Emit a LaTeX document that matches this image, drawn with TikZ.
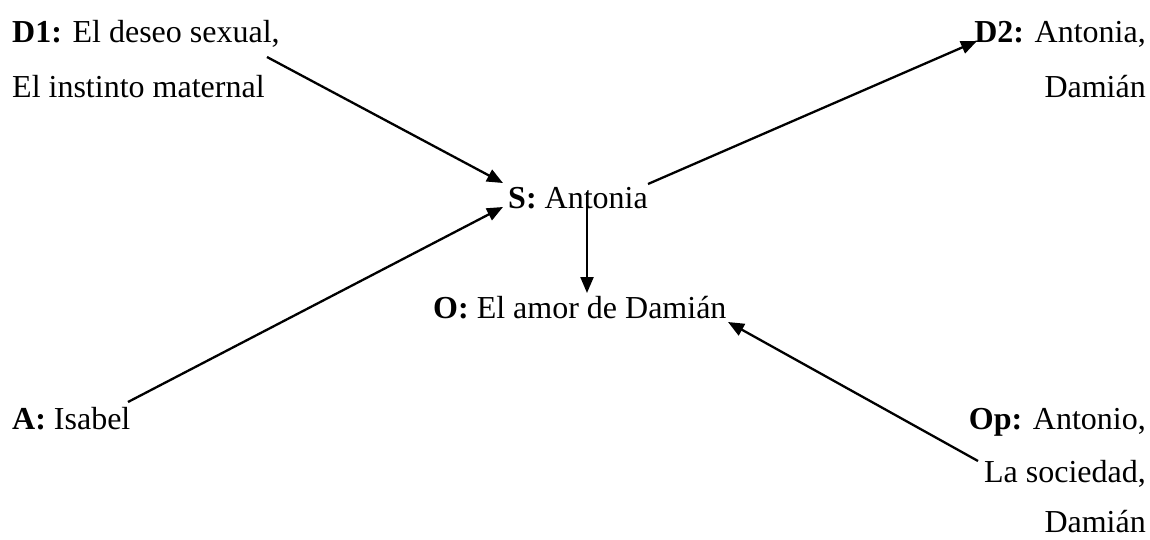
\documentclass[tikz,border=0pt]{standalone}
\usepackage{fontspec}
\setmainfont{Liberation Serif}
\usetikzlibrary{arrows.meta}
\begin{document}
\begin{tikzpicture}[x=1pt,y=-1pt,
  txt/.style={inner sep=0pt,font=\fontsize{32}{38}\selectfont},
  arr/.style={line width=2.3pt,-{Triangle[length=16pt,width=13pt]}}]
\useasboundingbox[fill=white] (0,0) rectangle (1150,540);
% texts
\node[txt,anchor=base west] (d1a) at (12,42.6) {\textbf{D1:} El deseo sexual,};
\node[txt,anchor=base west] (d1b) at (12,97.8) {El instinto maternal};
\node[txt,anchor=base east] (d2a) at (1146,42.6) {\textbf{D2:} Antonia,};
\node[txt,anchor=base east] (d2b) at (1146,97.8) {Damián};
\node[txt,anchor=base west] (s) at (508,208.2) {\textbf{S:} Antonia};
\node[txt,anchor=base west] (o) at (433,318.6) {\textbf{O:} El amor de Damián};
\node[txt,anchor=base west] (a) at (12,429) {\textbf{A:} Isabel};
\node[txt,anchor=base east] (opa) at (1146,429) {\textbf{Op:} Antonio,};
\node[txt,anchor=base east] (opb) at (1146,482) {La sociedad,};
\node[txt,anchor=base east] (opc) at (1146,532) {Damián};
% connector ends
\coordinate (d1out) at (267,57);
\coordinate (sin1) at (503,183);
\coordinate (aout) at (128,402);
\coordinate (sin2) at (503,207);
\coordinate (sout) at (648,184);
\coordinate (d2in) at (977,41);
\coordinate (sdown) at (587,192);
\coordinate (oin) at (587,293);
\coordinate (opout) at (978,461);
\coordinate (oin2) at (728,322);
% connectors
\draw[arr] (d1out) -- (sin1);
\draw[arr] (aout) -- (sin2);
\draw[arr] (sout) -- (d2in);
\draw[arr] (sdown) -- (oin);
\draw[arr] (opout) -- (oin2);
\end{tikzpicture}
\end{document}
